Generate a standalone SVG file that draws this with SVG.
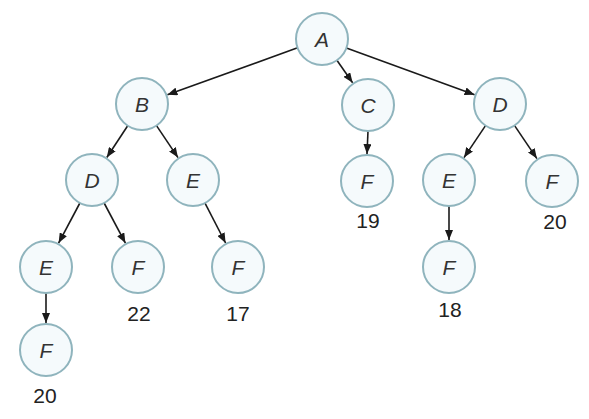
<svg xmlns="http://www.w3.org/2000/svg" width="589" height="419" viewBox="0 0 589 419">
<style>
.n circle{fill:#f5fafc;stroke:#8fb4bd;stroke-width:2}
.n text{font-family:"Liberation Sans",Arial,sans-serif;font-style:italic;font-size:21px;fill:#333;text-anchor:middle}
.lbl{font-family:"Liberation Sans",Arial,sans-serif;font-size:21px;fill:#222;text-anchor:middle}
#edges line{stroke:#1a1a1a;stroke-width:1.6;marker-end:url(#ah)}
</style>
<defs>
<marker id="ah" markerUnits="userSpaceOnUse" markerWidth="10" markerHeight="8" refX="10" refY="4" orient="auto">
<path d="M0,0 L10,4 L0,8 Z" fill="#1a1a1a"/>
</marker>
</defs>
<rect width="589" height="419" fill="#fff"/>
<g id="edges">
<line x1="297.6" y1="47.8" x2="167.4" y2="94.8"/>
<line x1="336.9" y1="60.3" x2="352.6" y2="82.8"/>
<line x1="346.4" y1="47.9" x2="474.6" y2="94.7"/>
<line x1="127.7" y1="125.7" x2="106.8" y2="157.5"/>
<line x1="156.5" y1="125.6" x2="178" y2="157.6"/>
<line x1="368" y1="131" x2="367" y2="154"/>
<line x1="485.5" y1="125.6" x2="464" y2="157.6"/>
<line x1="514.6" y1="125.6" x2="536.9" y2="158.6"/>
<line x1="79.9" y1="203" x2="58.6" y2="243.1"/>
<line x1="104.1" y1="203" x2="125.4" y2="243.1"/>
<line x1="205" y1="203.1" x2="225.6" y2="243"/>
<line x1="449" y1="206" x2="449" y2="240"/>
<line x1="46" y1="293" x2="46" y2="323"/>
</g>
<g id="nA" class="n"><circle cx="322" cy="39" r="26"/><text x="322" y="46.5">A</text></g>
<g id="nB" class="n"><circle cx="142" cy="104" r="26"/><text x="142" y="111.5">B</text></g>
<g id="nC" class="n"><circle cx="368" cy="105" r="26"/><text x="368" y="112.5">C</text></g>
<g id="nD1" class="n"><circle cx="500" cy="104" r="26"/><text x="500" y="111.5">D</text></g>
<g id="nD2" class="n"><circle cx="92" cy="180" r="26"/><text x="92" y="187.5">D</text></g>
<g id="nE1" class="n"><circle cx="193" cy="180" r="26"/><text x="193" y="187.5">E</text></g>
<g id="nF1" class="n"><circle cx="367" cy="181" r="26"/><text x="367" y="188.5">F</text></g>
<g id="nE2" class="n"><circle cx="449" cy="180" r="26"/><text x="449" y="187.5">E</text></g>
<g id="nF2" class="n"><circle cx="552" cy="181" r="26"/><text x="552" y="188.5">F</text></g>
<g id="nE3" class="n"><circle cx="46" cy="267" r="26"/><text x="46" y="274.5">E</text></g>
<g id="nF3" class="n"><circle cx="138" cy="267" r="26"/><text x="138" y="274.5">F</text></g>
<g id="nF4" class="n"><circle cx="238" cy="267" r="26"/><text x="238" y="274.5">F</text></g>
<g id="nF5" class="n"><circle cx="449" cy="267" r="26"/><text x="449" y="274.5">F</text></g>
<g id="nF6" class="n"><circle cx="46" cy="350" r="26"/><text x="46" y="357.5">F</text></g>
<g id="labels">
<text class="lbl" x="368" y="228">19</text>
<text class="lbl" x="555" y="229">20</text>
<text class="lbl" x="139" y="321">22</text>
<text class="lbl" x="238" y="321">17</text>
<text class="lbl" x="450" y="317">18</text>
<text class="lbl" x="45" y="403">20</text>
</g>
</svg>
